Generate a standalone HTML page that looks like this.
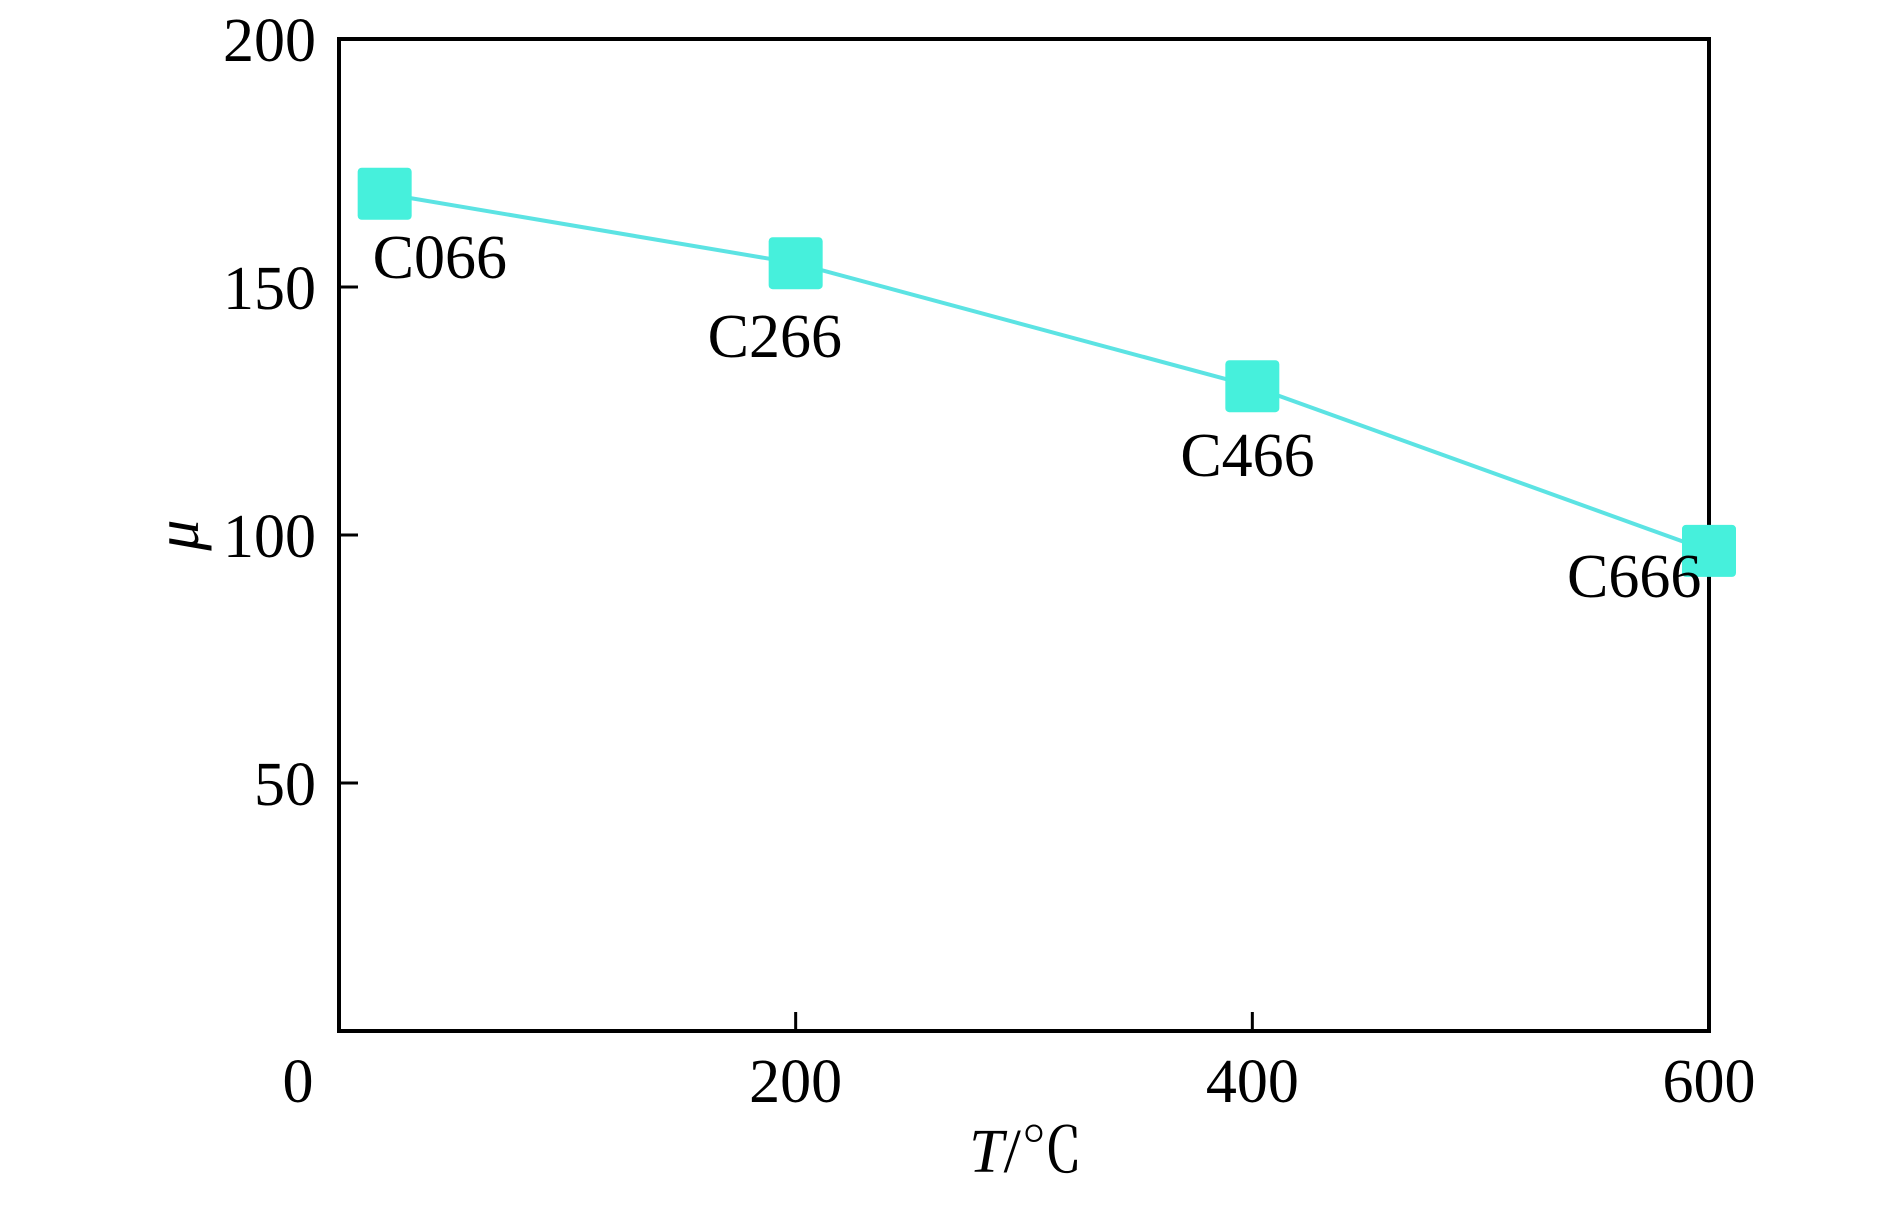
<!DOCTYPE html>
<html><head><meta charset="utf-8"><style>
html,body{margin:0;padding:0;background:#fff;}
svg text{font-family:"Liberation Serif","Noto Serif CJK SC",serif;fill:#000;}
</style></head><body>
<svg id="chart" width="1890" height="1200" viewBox="0 0 1890 1200" xmlns="http://www.w3.org/2000/svg">
<g id="axes"></g>
<g id="series"></g>
<text x="1026" y="1172" font-size="62" text-anchor="middle"><tspan font-style="italic">T</tspan>/℃</text>
<text x="0" y="0" font-size="62" font-style="italic" text-anchor="middle" transform="translate(198,535) rotate(-90)">μ</text>
</svg>
<script>
const temps = [20, 200, 400, 600];
const muValues = [168.8, 154.8, 130, 96.8];
const pointLabels = ["C066", "C266", "C466", "C666"];
const xTicks = [0, 200, 400, 600];
const yTicks = [50, 100, 150, 200];

const L=339,R=1709,T=39,B=1031;
const xMin=0,xMax=600,yMin=0,yMax=200;
const xs=v=>L+(v-xMin)/(xMax-xMin)*(R-L);
const ys=v=>B-(v-yMin)/(yMax-yMin)*(B-T);
const NS="http://www.w3.org/2000/svg";
const axes=document.getElementById('axes');
const series=document.getElementById('series');
function mk(tag,attrs,parent){const e=document.createElementNS(NS,tag);for(const k in attrs)e.setAttribute(k,attrs[k]);parent.appendChild(e);return e;}

const frame=mk('rect',{x:L,y:T,width:R-L,height:B-T,fill:'none',stroke:'#000','stroke-width':4},axes);



xTicks.forEach(v=>{
  const x=xs(v);
  if(v>xMin&&v<xMax){
    const t=mk('line',{x1:x,x2:x,y1:B,y2:B-19,stroke:'#000','stroke-width':3},axes);
    
    
  }
  const lx = v===0 ? 298 : x;
  const tx=mk('text',{x:lx,y:1102,'font-size':62,'text-anchor':'middle'},axes);
  tx.textContent=v;
  
  
});
yTicks.forEach(v=>{
  const y=ys(v);
  if(v<yMax){
    const t=mk('line',{x1:L,x2:L+19,y1:y,y2:y,stroke:'#000','stroke-width':3},axes);
    
    
  }
  const tx=mk('text',{x:316,y:y+22,'font-size':62,'text-anchor':'end'},axes);
  tx.textContent=v;
  
  
});

const pts=temps.map((t,i)=>xs(t)+','+ys(muValues[i])).join(' ');
const line=mk('polyline',{points:pts,fill:'none',stroke:'#5ce3e3','stroke-width':4},series);



const labelOffsets=[[-12,62],[-88,72],[-72,68],[-142,24]];
temps.forEach((t,i)=>{
  const x=xs(t),y=ys(muValues[i]);
  const m=mk('rect',{x:x-27,y:y-26,width:54,height:52,rx:4,fill:'#46f0dc'},series);
  
  
  const tx=mk('text',{x:x+labelOffsets[i][0],y:y+labelOffsets[i][1]+22,'font-size':62},series);
  tx.textContent=pointLabels[i];
  
  
});
</script>
</body></html>
